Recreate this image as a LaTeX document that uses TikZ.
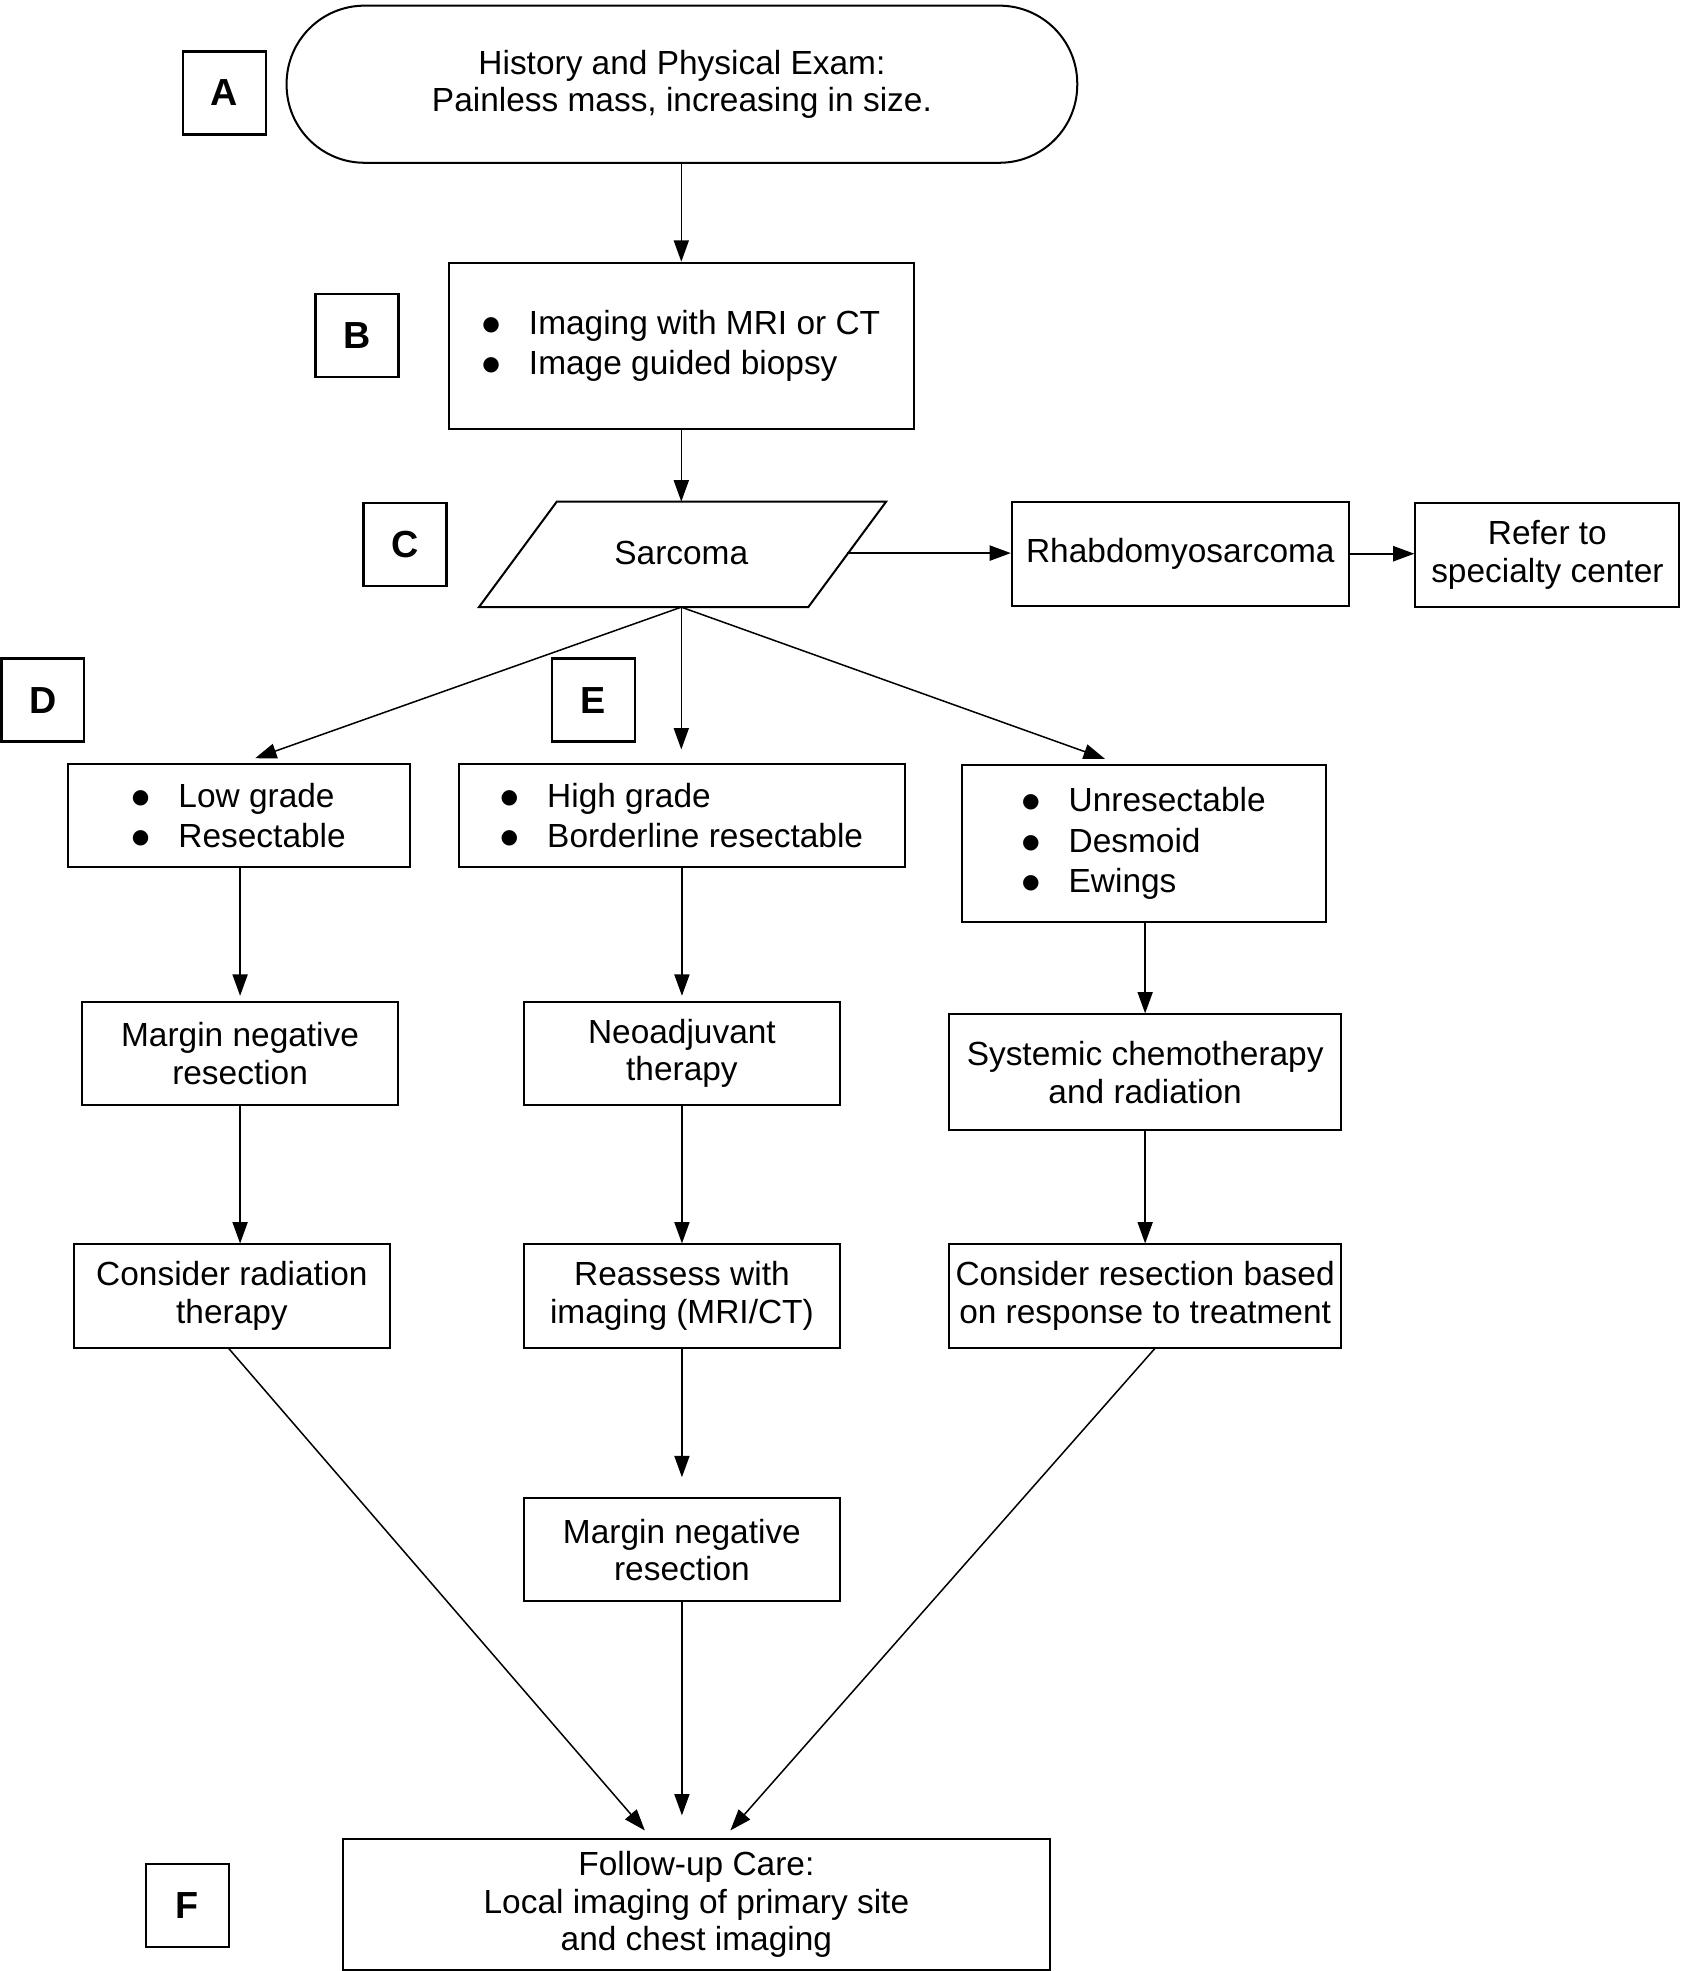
\documentclass[tikz,border=0pt]{standalone}
\usepackage{fontspec}
\setmainfont{Liberation Sans}
\newfontfamily\symfont{DejaVu Sans}
\usetikzlibrary{arrows.meta}
\newcommand\bul{\makebox[18.5pt][l]{\raisebox{1.6pt}{\symfont\fontsize{8}{9}\selectfont ●}}}
\begin{document}
\begin{tikzpicture}[x=0.5pt,y=-0.5pt,
  box/.style={draw,line width=0.8pt,inner sep=0pt,align=center,font=\fontsize{13.3}{15}\selectfont},
  blist/.style={box,align=left,font=\fontsize{13.3}{16}\selectfont},
  lbl/.style={draw,line width=1pt,minimum width=33pt,minimum height=33pt,inner sep=0pt,font=\fontsize{15}{18}\selectfont\bfseries},
  arr/.style={-{Triangle[length=8.5pt,width=6pt]},line width=0.6pt},
  ]
\useasboundingbox (0,0) rectangle (1340,1568);

% labels
\node[lbl] (la) at (178.5,74) {A};
\node[lbl] (lb) at (284,267) {B};
\node[lbl] (lc) at (322,433) {C};
\node[lbl] (ld) at (34,557) {D};
\node[lbl] (le) at (472,557) {E};
\node[lbl] (lf) at (149,1516) {F};

% nodes
\node[box,minimum width=314.5pt,minimum height=62.5pt,rounded corners=31pt] (A) at (542.5,67)
  {History and Physical Exam:\\Painless mass, increasing in size.};
\node[blist,minimum width=185pt,minimum height=66pt] (B) at (542,275)
  {\bul Imaging with MRI or CT\\\bul Image guided biopsy};

\draw[line width=0.8pt] (381,483) -- (443,399) -- (705,399) -- (643,483) -- cycle;
\node[box,draw=none] (C) at (542,440) {Sarcoma};
\coordinate (cT) at (542,399);
\coordinate (cR) at (674,440);
\coordinate (cB) at (542,483);

\node[box,minimum width=134pt,minimum height=41.5pt] (rh) at (939,440.5) {Rhabdomyosarcoma};
\node[box,minimum width=105pt,minimum height=41.5pt] (ref) at (1231,441.5) {Refer to\\specialty center};

\node[blist,minimum width=136pt,minimum height=41pt] (D1) at (190,649)
  {\bul Low grade\\\bul Resectable};
\node[blist,minimum width=177.5pt,minimum height=41pt] (E1) at (542.5,649)
  {\bul High grade\\\bul Borderline resectable};
\node[blist,minimum width=145pt,minimum height=62.5pt] (R1) at (910,671)
  {\bul Unresectable\\\bul Desmoid\\\bul Ewings};

\node[box,minimum width=126pt,minimum height=41pt] (D2) at (191,838) {Margin negative\\resection};
\node[box,minimum width=125.5pt,minimum height=41pt] (E2) at (542.5,838) {Neoadjuvant\\therapy};
\node[box,minimum width=156pt,minimum height=46pt] (R2) at (911,853) {Systemic chemotherapy\\and radiation};

\node[box,minimum width=125.5pt,minimum height=41pt] (D3) at (184.5,1031) {Consider radiation\\therapy};
\node[box,minimum width=125.5pt,minimum height=41pt] (E3) at (542.5,1031) {Reassess with\\imaging (MRI/CT)};
\node[box,minimum width=156pt,minimum height=41pt] (R3) at (911,1031) {Consider resection based\\on response to treatment};

\node[box,minimum width=125.5pt,minimum height=41pt] (E4) at (542.5,1233) {Margin negative\\resection};

\node[box,minimum width=281pt,minimum height=52pt] (F) at (554,1515)
  {Follow-up Care:\\Local imaging of primary site\\and chest imaging};

% connectors
\draw[arr] (A.south -| B.north) -- (B.north);
\draw[arr] (B.south) -- (cT);
\draw[arr,line width=0.9pt] (cR) -- (cR -| rh.west);
\draw[arr,line width=0.9pt] (rh.east) -- (rh.east -| ref.west);
\draw[arr] (cB) -- ([xshift=6.5pt,yshift=2pt]D1.north);
\draw[arr,shorten >=5.5pt] (cB) -- (cB |- E1.north);
\draw[arr] (cB) -- ([xshift=-15.5pt,yshift=2pt]R1.north);

\draw[arr,shorten >=2pt] (D1.south -| D2.north) -- (D2.north);
\draw[arr,shorten >=2pt] (E1.south) -- (E2.north);
\draw[arr] (R1.south -| R2.north) -- (R2.north);

\draw[arr] (D2.south) -- (D2.south |- D3.north);
\draw[arr] (E2.south) -- (E3.north);
\draw[arr] (R2.south) -- (R3.north);

\draw[arr,shorten >=8pt] (E3.south) -- (E4.north);
\draw[arr,shorten >=9pt] (E4.south) -- (E4.south |- F.north);
\draw[arr] ([xshift=-1.25pt]D3.south) -- ([xshift=-20.5pt,yshift=3pt]F.north);
\draw[arr] ([xshift=3.85pt]R3.south) -- ([xshift=13.5pt,yshift=3pt]F.north);
\end{tikzpicture}
\end{document}
